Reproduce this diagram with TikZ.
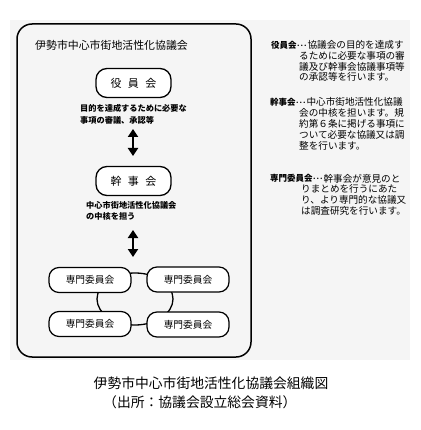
\documentclass[tikz,border=0pt]{standalone}
\usepackage{fontspec}
\setmainfont{Noto Sans CJK JP}
\usetikzlibrary{arrows.meta,shapes.geometric}
\definecolor{bg}{HTML}{F5F5F5}
\tikzset{
 bigbox/.style={draw=black, line width=1.3pt, rounded corners=11pt, fill=white, minimum width=75pt, minimum height=29pt, inner sep=0pt, font=\fontsize{11}{11}\selectfont},
 subbox/.style={draw=black, line width=1.2pt, rounded corners=10pt, fill=white, minimum width=82pt, minimum height=25pt, inner sep=0pt, font=\fontsize{9.7}{9.7}\selectfont},
 note/.style={anchor=west, inner sep=0pt, font=\fontsize{8.2}{11.7}\selectfont\bfseries, align=left},
 bodyline/.style={anchor=west, inner sep=0pt, font=\fontsize{9.6}{9.6}\selectfont},
 lab/.style={anchor=west, inner sep=0pt, font=\fontsize{8.5}{8.5}\selectfont\bfseries},
 dbl/.style={{Triangle[width=10pt,length=8pt]}-{Triangle[width=10pt,length=8pt]}, line width=2.2pt},
 ring/.style={draw=black, line width=1.3pt, ellipse, minimum width=76pt, minimum height=52pt, inner sep=0pt},
 caption/.style={inner sep=0pt, font=\fontsize{13.8}{13.8}\selectfont}
}
\newcommand{\mydots}{{\fontsize{7}{7}\selectfont ･･･}}
\begin{document}
\begin{tikzpicture}[x=1pt,y=-1pt]
\useasboundingbox (0,0) rectangle (420,430);
\fill[bg] (10,20) rectangle (410,360);
\draw[line width=1.5pt, rounded corners=15pt] (17,24) rectangle (251,357);
\node[anchor=west, inner sep=0pt, font=\fontsize{10.9}{10.9}\selectfont] (title) at (35,45) {伊勢市中心市街地活性化協議会};

\node[bigbox] (yakuin) at (133.5,83) {役\hspace{6.5pt}員\hspace{6.5pt}会};
\node[note] (n1) at (80,114) {目的を達成するために必要な\\事項の審議、承認等};
\node[bigbox] (kanji) at (133.5,181) {幹\hspace{6.5pt}事\hspace{6.5pt}会};
\node[note] (n2) at (86,211) {中心市街地活性化協議会\\の中核を担う};

\coordinate (a1t) at (133,129);
\coordinate (a1b) at (133,156);
\draw[dbl] (a1t) -- (a1b);
\coordinate (a2t) at (133,230);
\coordinate (a2b) at (133,257);
\draw[dbl] (a2t) -- (a2b);

\node[ring] (r) at (135,299) {};
\node[subbox] (tl) at (90,280) {専門委員会};
\node[subbox] (tr) at (188,279.5) {専門委員会};
\node[subbox] (bl) at (90,324) {専門委員会};
\node[subbox] (br) at (188,324.5) {専門委員会};

% right-hand explanations
\node[lab] (l1) at (271,45) {役員会\mydots};
\node[bodyline] (b11) at (l1.east) {協議会の目的を達成す};
\node[bodyline] (b12) at (299,56) {るために必要な事項の審};
\node[bodyline] (b13) at (299,66.5) {議及び幹事会協議事項等};
\node[bodyline] (b14) at (299,77) {の承認等を行います。};

\node[lab] (l2) at (270,102) {幹事会\mydots};
\node[bodyline] (b21) at (l2.east) {中心市街地活性化協議};
\node[bodyline] (b22) at (299,113) {会の中核を担います。規};
\node[bodyline] (b23) at (299,124) {約第６条に掲げる事項に};
\node[bodyline] (b24) at (299,135) {ついて必要な協議又は調};
\node[bodyline] (b25) at (299,146) {整を行います。};

\node[lab] (l3) at (270,178.5) {専門委員会\mydots};
\node[bodyline] (b31) at (l3.east) {幹事会が意見のと};
\node[bodyline] (b32) at (301,189.3) {りまとめを行うにあた};
\node[bodyline] (b33) at (301,200) {り、より専門的な協議又};
\node[bodyline] (b34) at (301,211) {は調査研究を行います。};

\node[caption] (c1) at (211,383) {伊勢市中心市街地活性化協議会組織図};
\node[caption, anchor=west] (c2) at (103,402) {（出所：協議会設立総会資料）};
\end{tikzpicture}
\end{document}
